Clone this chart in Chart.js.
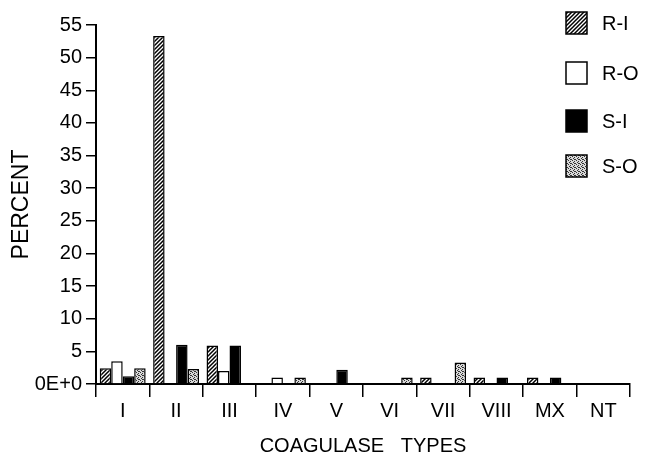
<!DOCTYPE html>
<html>
<head>
<meta charset="utf-8">
<script src="https://cdn.jsdelivr.net/npm/chart.js@4.4.0/dist/chart.umd.min.js"></script>
<style>
html,body{margin:0;padding:0;background:#fff}
#wrap{width:656px;height:455px;position:relative}
</style>
</head>
<body>
<div id="wrap"><canvas id="coagChart"></canvas></div>
<script>

/* ---------------- DATA ---------------- */

const categories = ["I","II","III","IV","V","VI","VII","VIII","MX","NT"]
const seriesNames = ["R-I","R-O","S-I","S-O"]

const riValues = [2.4,53.3,5.9,0,0,0,1.0,1.0,1.0,0]
const roValues = [3.5,0,2.0,1.0,0,0,0,0,0,0]
const siValues = [1.2,6.0,5.9,0,2.2,0,0,1.0,1.0,0]
const soValues = [2.4,2.3,0,1.0,0,1.0,3.3,0,0,0]

const yMin = 0
const yMax = 55
const yStep = 5

const FONT = "'Liberation Sans',Arial,Helvetica,sans-serif"


/* ---------------- PATTERNS ---------------- */

function hatchPattern(ctx){
const c = document.createElement("canvas")
c.width = 4
c.height = 4
const g = c.getContext("2d")
g.fillStyle = "#fff"
g.fillRect(0,0,4,4)
g.strokeStyle = "#000"
g.lineWidth = 1.5
g.beginPath()
g.moveTo(-1,5); g.lineTo(5,-1)
g.moveTo(-3,3); g.lineTo(3,-3)
g.moveTo(1,7); g.lineTo(7,1)
g.stroke()
return ctx.createPattern(c,"repeat")
}

function stipplePattern(ctx){
const c = document.createElement("canvas")
c.width = 4
c.height = 4
const g = c.getContext("2d")
g.fillStyle = "#d8d8d8"
g.fillRect(0,0,4,4)
g.fillStyle = "#333"
const dots = [[0,0],[2,1],[1,2],[3,3],[2,3]]
dots.forEach(d => g.fillRect(d[0],d[1],1,1))
return ctx.createPattern(c,"repeat")
}


/* ---------------- LEGEND ---------------- */

const legendRows = [23,73,121,166]

const boxLegend = {
id:"boxLegend",
afterDraw(chart){
const ctx = chart.ctx
ctx.save()
ctx.font = "20px " + FONT
ctx.textBaseline = "middle"
chart.data.datasets.forEach((ds,i) => {
const y = legendRows[i]
ctx.fillStyle = ds.backgroundColor
ctx.fillRect(566,y-11,21,22)
ctx.strokeStyle = "#000"
ctx.lineWidth = 1.5
ctx.strokeRect(566,y-11,21,22)
ctx.fillStyle = "#000"
ctx.fillText(ds.label,602,y+1)
})
ctx.restore()
}
}


/* ---------------- CHART ---------------- */

window.onload = function(){

const canvas = document.getElementById("coagChart")
const ctx = canvas.getContext("2d")

const fills = [hatchPattern(ctx),"#fff","#000",stipplePattern(ctx)]
const values = [riValues,roValues,siValues,soValues]

new Chart(canvas,{
type:"bar",
data:{
labels:categories,
datasets:seriesNames.map((name,i) => ({
label:name,
data:values[i],
backgroundColor:fills[i],
borderColor:"#000",
borderWidth:1.5,
categoryPercentage:0.86,
barPercentage:1.0
}))
},
options:{
responsive:true,
maintainAspectRatio:false,
animation:false,
layout:{padding:{top:25,right:26,left:0,bottom:0}},
plugins:{
legend:{display:false},
tooltip:{enabled:false}
},
scales:{
x:{
offset:true,
grid:{
offset:true,
drawOnChartArea:false,
drawTicks:true,
tickLength:13,
color:"#000",
lineWidth:1.5
},
border:{color:"#000",width:2},
ticks:{
color:"#000",
font:{family:FONT,size:20},
padding:2,
maxRotation:0,
autoSkip:false
},
title:{
display:true,
text:"COAGULASE   TYPES",
color:"#000",
font:{family:FONT,size:20,lineHeight:0.8},
padding:{top:0,bottom:1}
},
afterFit(scale){ scale.height = 71 }
},
y:{
min:yMin,
max:yMax,
grid:{
drawOnChartArea:false,
drawTicks:true,
tickLength:10,
color:"#000",
lineWidth:1.5
},
border:{color:"#000",width:2},
ticks:{
stepSize:yStep,
color:"#000",
font:{family:FONT,size:20},
padding:4,
callback:v => v === 0 ? "0E+0" : v
},
title:{
display:true,
text:"PERCENT",
color:"#000",
font:{family:FONT,size:23,lineHeight:1},
padding:{top:10,bottom:0}
},
afterFit(scale){ scale.width = 96 }
}
}
},
plugins:[boxLegend]
})

}

</script>
</body>
</html>
